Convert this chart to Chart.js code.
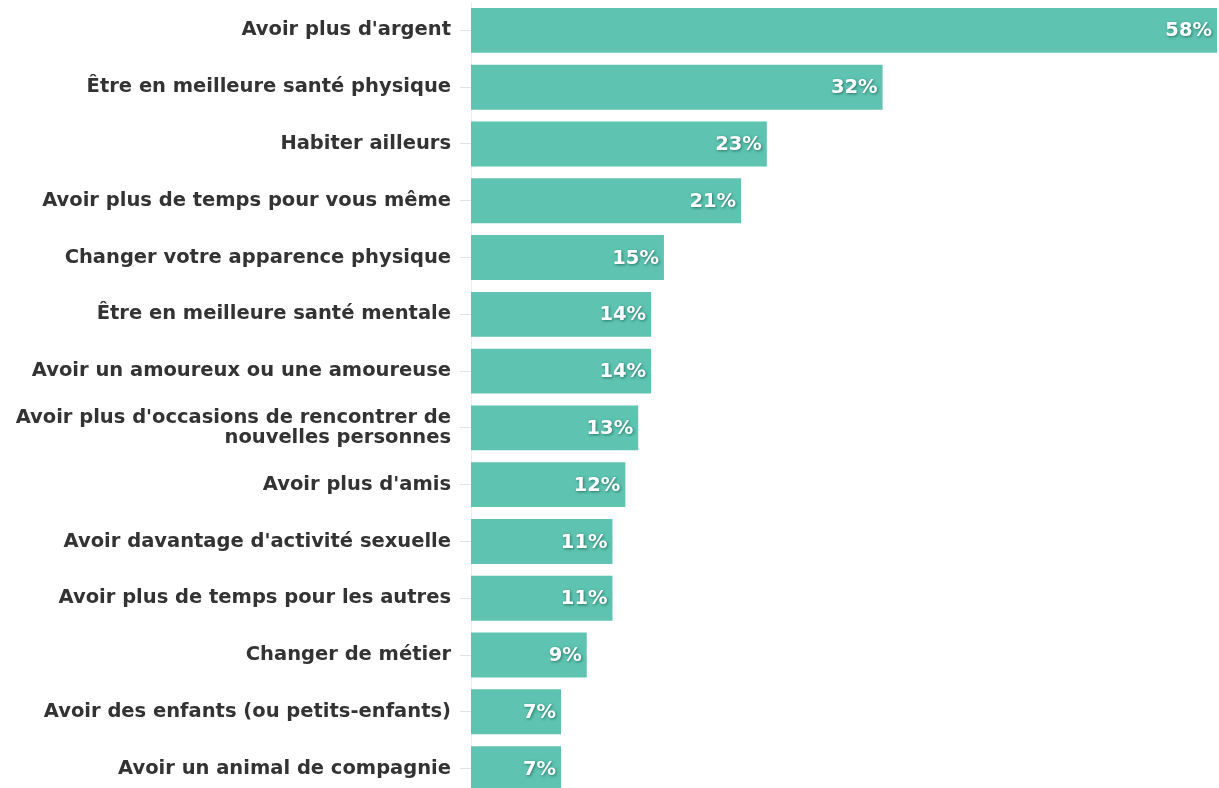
<!DOCTYPE html>
<html>
<head>
<meta charset="utf-8">
<script src="https://cdn.jsdelivr.net/npm/chart.js@4"></script>
<style>
  html, body { margin: 0; padding: 0; background: #ffffff; overflow: hidden; }
  #wrap { width: 1219px; height: 788px; overflow: hidden; }
  #bars { margin-top: -17px; display: block; }
</style>
</head>
<body>
<div id="wrap"><canvas id="bars" width="1219" height="833"></canvas></div>
<script>
/* --------------- Data --------------------- */
const categories = [
  "Avoir plus d'argent",
  "Être en meilleure santé physique",
  "Habiter ailleurs",
  "Avoir plus de temps pour vous même",
  "Changer votre apparence physique",
  "Être en meilleure santé mentale",
  "Avoir un amoureux ou une amoureuse",
  ["Avoir plus d'occasions de rencontrer de", "nouvelles personnes"],
  "Avoir plus d'amis",
  "Avoir davantage d'activité sexuelle",
  "Avoir plus de temps pour les autres",
  "Changer de métier",
  "Avoir des enfants (ou petits-enfants)",
  "Avoir un animal de compagnie",
];
const values = [58, 32, 23, 21, 15, 14, 14, 13, 12, 11, 11, 9, 7, 7];

const barColor = "#5fc3b1";
const labelFont = "'DejaVu Sans', sans-serif";

/* --------------- Value labels at the end of each bar --------------------- */
const valueLabels = {
  id: "valueLabels",
  afterDatasetsDraw(chart) {
    const ctx = chart.ctx;
    const meta = chart.getDatasetMeta(0);
    ctx.save();
    ctx.font = "bold 19.5px " + labelFont;
    ctx.textAlign = "right";
    ctx.textBaseline = "middle";
    meta.data.forEach((bar, i) => {
      ctx.shadowColor = "rgba(35,115,100,0.95)";
      ctx.shadowBlur = 3;
      ctx.shadowOffsetX = 1;
      ctx.shadowOffsetY = 1;
      ctx.fillStyle = "#ffffff";
      ctx.fillText(values[i] + "%", bar.x - 5, bar.y + 1);
    });
    ctx.restore();
  },
};

/* --------------- Chart --------------------- */
new Chart(document.getElementById("bars"), {
  type: "bar",
  plugins: [valueLabels],
  data: {
    labels: categories,
    datasets: [
      {
        data: values,
        backgroundColor: barColor,
        borderWidth: 0,
        barPercentage: 0.79,
        categoryPercentage: 1,
      },
    ],
  },
  options: {
    indexAxis: "y",
    responsive: false,
    animation: false,
    layout: { padding: { top: 2, right: 2, bottom: 2, left: 0 } },
    plugins: {
      legend: { display: false },
      tooltip: { enabled: false },
    },
    scales: {
      x: {
        min: 0,
        max: 58,
        display: false,
      },
      y: {
        afterFit: (scale) => { scale.width = 471; },
        grid: {
          offset: false,
          drawOnChartArea: false,
          color: "#e3e3e3",
          tickLength: 11,
        },
        border: { display: true, color: "#ececec" },
        ticks: {
          color: "#333333",
          padding: 9,
          font: { family: labelFont, weight: "bold", size: 19.5, lineHeight: 1.03 },
        },
      },
    },
  },
});
</script>
</body>
</html>
